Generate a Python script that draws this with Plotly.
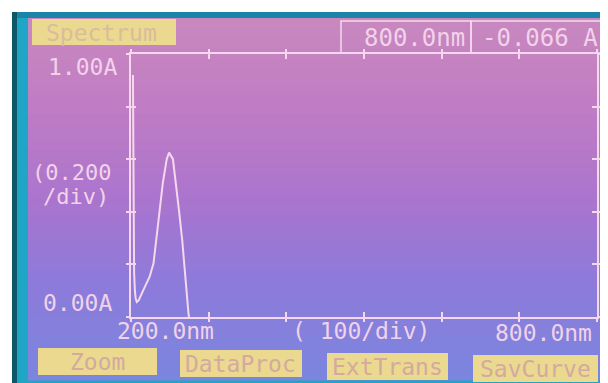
import plotly.graph_objects as go

# ---- data ----
wavelength_nm = [202.5, 203, 203.5, 204, 205, 206, 207.5, 210, 216, 224, 229, 233, 236, 241, 246, 249,
                 254, 258, 262, 266, 269, 272, 274, 276, 280, 300, 400, 500, 600, 700, 800]
absorbance = [0.92, 0.62, 0.32, 0.17, 0.10, 0.07, 0.057, 0.064, 0.103, 0.153, 0.204, 0.305, 0.40,
              0.51, 0.60, 0.625, 0.60, 0.51, 0.40, 0.29, 0.18, 0.077, 0.014, -0.03, -0.05,
              -0.06, -0.065, -0.066, -0.066, -0.066, -0.066]
x_ticks = [200, 300, 400, 500, 600, 700, 800]
y_ticks = [0.0, 0.2, 0.4, 0.6, 0.8, 1.0]
y_top_label = "1.00A"
y_bottom_label = "0.00A"
y_scale_label = ["(0.200", "/div)"]
x_left_label = "200.0nm"
x_scale_label = "( 100/div)"
x_right_label = "800.0nm"
title_label = "Spectrum"
readout_wavelength = "800.0nm"
readout_value = "-0.066 A"
buttons = ["Zoom", "DataProc", "ExtTrans", "SavCurve"]

# page body has an 8px margin, so the figure is drawn 8px smaller and offset
OFF = 8
W, H = 608 - OFF, 383 - OFF
def px(x): return (x - OFF) / W
def py(y): return 1 - (y - OFF) / H

FONT = "DejaVu Sans Mono"
LINE = "#f6d8ee"
TXT = "#f2d2ea"
YEL = "#ead98f"
BTN_TXT = "#d4a9a0"

shapes = []
# teal bezel
shapes.append(dict(type="rect", xref="paper", yref="paper", x0=px(12), x1=px(608), y0=py(383), y1=py(12),
                   fillcolor="#1fa6c6", line=dict(width=0), layer="below"))
shapes.append(dict(type="rect", xref="paper", yref="paper", x0=px(12), x1=px(17), y0=py(383), y1=py(12),
                   fillcolor="#0f5666", line=dict(width=0), layer="below"))
shapes.append(dict(type="rect", xref="paper", yref="paper", x0=px(17), x1=px(608), y0=py(18), y1=py(12),
                   fillcolor="#1b84a8", line=dict(width=0), layer="below"))

# screen gradient (decorative bands)
stops = [(18, (200, 136, 190)), (110, (192, 124, 196)), (200, (170, 116, 206)),
         (280, (142, 122, 218)), (381, (122, 134, 222))]
def col_at(y):
    for (y0, c0), (y1, c1) in zip(stops[:-1], stops[1:]):
        if y0 <= y <= y1:
            t = (y - y0) / (y1 - y0)
            return "rgb(%d,%d,%d)" % tuple(round(a + (b - a) * t) for a, b in zip(c0, c1))
    return "rgb(%d,%d,%d)" % stops[-1][1]
top, bot, step = 18, 380, 6
y = top
while y < bot:
    y2 = min(y + step, bot)
    shapes.append(dict(type="rect", xref="paper", yref="paper", x0=px(28), x1=px(604),
                       y0=py(y2 + 0.5), y1=py(y), fillcolor=col_at((y + y2) / 2),
                       line=dict(width=0), layer="below"))
    y = y2

def box(x0, y0, x1, y1, fill=None, border=None):
    shapes.append(dict(type="rect", xref="paper", yref="paper", x0=px(x0), x1=px(x1),
                       y0=py(y1), y1=py(y0), fillcolor=fill or "rgba(0,0,0,0)",
                       line=dict(width=1.5 if border else 0, color=border or "rgba(0,0,0,0)"),
                       layer="below"))

box(32, 19, 176, 45, fill=YEL)
box(341, 21, 471, 53, border=LINE)
box(471, 21, 604, 53, border=LINE)
btn_boxes = [(38, 348, 157, 375), (180, 350, 302, 377), (327, 353, 448, 380), (473, 355, 598, 382)]
for b in btn_boxes:
    box(*b, fill=YEL)

annotations = []
def label(text, x, y, xanchor="center", size=23, color=TXT):
    annotations.append(dict(text=text, x=px(x), y=py(y), xref="paper", yref="paper",
                            xanchor=xanchor, yanchor="middle", showarrow=False,
                            font=dict(family=FONT, size=size, color=color)))

label(title_label, 101, 33, size=23, color="#d9bd9c")
label(readout_wavelength, 467, 38, xanchor="right", size=24)
label(readout_value, 600, 38, xanchor="right", size=24)
label(y_top_label, 119, 67, xanchor="right")
label(y_scale_label[0], 113, 172, xanchor="right", size=22)
label(y_scale_label[1], 111, 196, xanchor="right", size=22)
label(y_bottom_label, 114, 303, xanchor="right")
label(x_left_label, 165, 331)
label(x_scale_label, 361, 331)
label(x_right_label, 543, 333)
for name, (x0, y0, x1, y1) in zip(buttons, btn_boxes):
    label(name, (x0 + x1) / 2, (y0 + y1) / 2, size=23, color=BTN_TXT)

fig = go.Figure()
fig.add_trace(go.Scatter(x=wavelength_nm, y=absorbance, mode="lines",
                         line=dict(color=LINE, width=2), showlegend=False, hoverinfo="skip"))
fig.add_trace(go.Scatter(x=[None], y=[None], xaxis="x2", yaxis="y2", showlegend=False))

dom_x = [px(131), px(597)]
dom_y = [py(317), py(54)]
common = dict(showgrid=False, zeroline=False, showticklabels=False)
fig.update_layout(
    width=W, height=H, margin=dict(l=0, r=0, t=0, b=0),
    paper_bgcolor="white", plot_bgcolor="rgba(0,0,0,0)",
    xaxis=dict(domain=dom_x, range=[200, 800], tickvals=x_ticks, ticks="inside", ticklen=5,
               tickwidth=2, tickcolor=LINE, showline=True, linecolor=LINE, linewidth=2,
               mirror="ticks", **common),
    yaxis=dict(domain=dom_y, range=[0, 1], tickvals=y_ticks, ticks="inside", ticklen=5,
               tickwidth=2, tickcolor=LINE, showline=True, linecolor=LINE, linewidth=2,
               mirror="ticks", **common),
    xaxis2=dict(domain=dom_x, range=[200, 800], overlaying="x", anchor="y2", tickvals=x_ticks,
                ticks="outside", ticklen=4, tickwidth=2, tickcolor=LINE, mirror="ticks",
                showline=False, **common),
    yaxis2=dict(domain=dom_y, range=[0, 1], overlaying="y", anchor="x2", tickvals=y_ticks,
                ticks="outside", ticklen=4, tickwidth=2, tickcolor=LINE, mirror="ticks",
                showline=False, **common),
    shapes=shapes, annotations=annotations,
)
fig.write_html("out.html")
